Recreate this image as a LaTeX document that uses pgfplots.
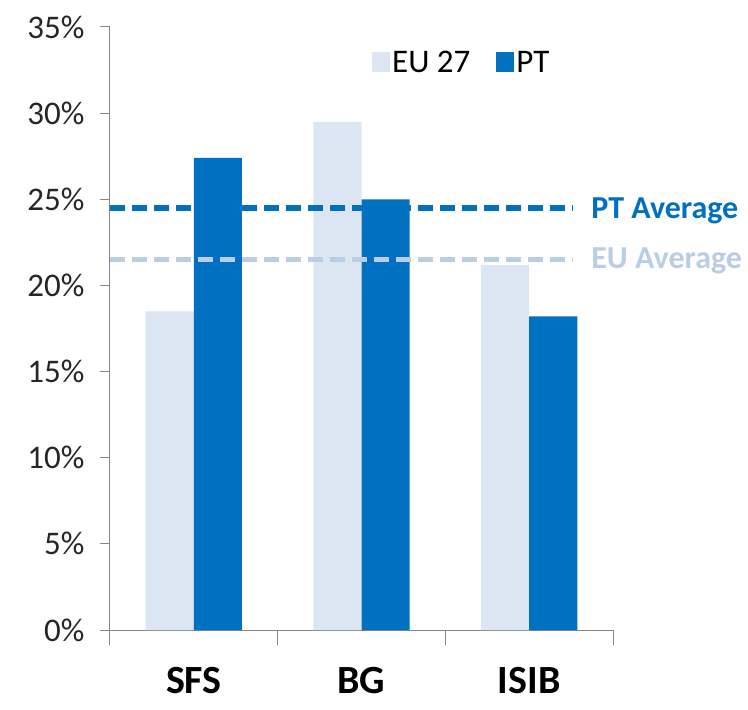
\documentclass[border=0pt]{standalone}
\usepackage{pgfplots}
\pgfplotsset{compat=1.18}
\usepackage{fontspec}
\setmainfont{Carlito}
\definecolor{eubar}{HTML}{DCE6F2}
\definecolor{ptbar}{HTML}{0070C0}
\definecolor{euline}{HTML}{B9CDE5}
\definecolor{axgray}{HTML}{868686}
\begin{document}
\begin{tikzpicture}
\useasboundingbox (-110bp,-80bp) rectangle (638bp,630bp);
\begin{axis}[
  scale only axis,
  width=503bp, height=603bp,
  xmin=0, xmax=3, ymin=0, ymax=35,
  axis x line*=bottom, axis y line*=left,
  axis line style={axgray, line width=1bp},
  ytick={0,5,...,35},
  yticklabel={\pgfmathprintnumber{\tick}\%},
  /pgf/number format/assume math mode=true,
  yticklabel style={font=\fontsize{33bp}{36bp}\selectfont, color=black!85, xshift=-12bp},
  ytick style={axgray, line width=1bp},
  tick align=outside,
  major tick length=10bp,
  xtick={0.5,1.5,2.5},
  xticklabels={SFS,BG,ISIB},
  xticklabel style={font=\fontsize{40bp}{44bp}\selectfont\bfseries, yshift=-24bp},
  major x tick style={draw=none},
  minor xtick={0,1,2,3},
  minor tick length=15bp,
  minor x tick style={axgray, line width=1bp},
  ybar=0pt,
  bar width=0.287,
  clip=false,
  legend style={draw=none, fill=none, at={(0.515,0.967)}, anchor=north west,
    font=\fontsize{33bp}{36bp}\selectfont, legend columns=2,
    /tikz/every even column/.append style={column sep=24bp}},
  legend image code/.code={\fill[#1,draw=none] (0bp,-9bp) rectangle (18bp,11bp);},
]
\addplot[fill=eubar, draw=none] coordinates {(0.5,18.5) (1.5,29.5) (2.5,21.2)};
\addlegendentry{EU 27}
\addplot[fill=ptbar, draw=none] coordinates {(0.5,27.4) (1.5,25.0) (2.5,18.2)};
\addlegendentry{PT}
\end{axis}
\begin{axis}[
  scale only axis,
  width=503bp, height=603bp,
  xmin=0, xmax=3, ymin=0, ymax=35,
  hide axis, clip=false,
]
\addplot[ptbar, line width=5.5bp, dash pattern=on 15bp off 7bp] coordinates {(0,24.5) (2.76,24.5)};
\addplot[euline, line width=5.5bp, dash pattern=on 15bp off 7bp] coordinates {(0,21.5) (2.76,21.5)};
\node[anchor=west, text=ptbar, font=\fontsize{32bp}{34bp}\selectfont\bfseries] at (axis cs:2.85,24.35) {PT Average};
\node[anchor=west, text=euline, font=\fontsize{32bp}{34bp}\selectfont\bfseries] at (axis cs:2.85,21.4) {EU Average};
\end{axis}
\end{tikzpicture}
\end{document}
